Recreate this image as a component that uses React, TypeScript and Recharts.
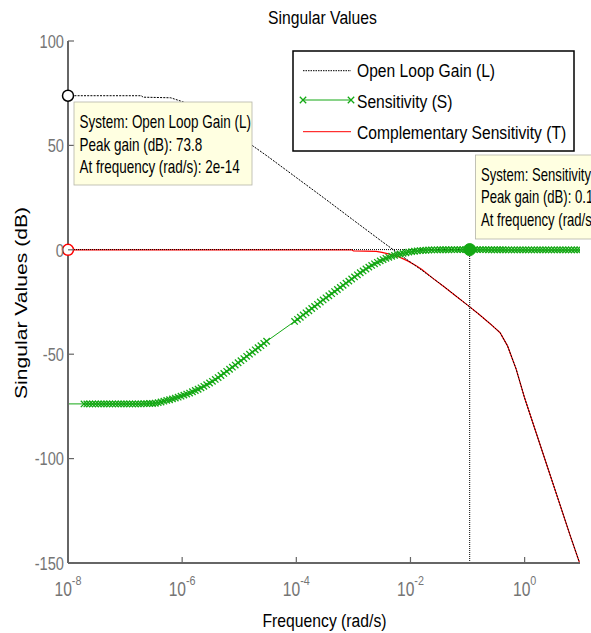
import React from "react";
import {
  ComposedChart,
  Line,
  XAxis,
  YAxis,
  ReferenceLine,
  ReferenceDot,
} from "recharts";

const FONT = "'Liberation Sans', Arial, Helvetica, sans-serif";
const GREEN = "#14a814";
const RED = "#ff0000";
const AXIS = "#666666";
const TICKTXT = "#757575";

// axes
const xMin = 1e-8;
const xMax = 10 ** 0.97;
const xTicks = [1e-8, 1e-6, 1e-4, 1e-2, 1];
const yTicks = [-150, -100, -50, 0, 50, 100];

// [log10(freq), dB]
const openLoop = [
  [-8, 73.8], [-7.5, 73.8], [-7.0, 73.8], [-6.71, 73.8], [-6.69, 73.1], [-6.2, 72.8],
  [-5.99, 70.9], [-5.8, 68.8], [-5.6, 65.9], [-5.4, 62.4], [-5.2, 58.5], [-5.0, 54.5],
  [-4.8, 50.5], [-4.5, 44.7], [-4.0, 34.6], [-3.5, 24.5], [-3.0, 14.2], [-2.5, 4.0],
  [-2.2, -2.0], [-2.0, -5.9], [-1.8, -9.8], [-1.6, -13.8], [-1.4, -17.9], [-1.2, -22.2],
  [-1.0, -26.5], [-0.8, -30.9], [-0.6, -35.5], [-0.43, -39.7], [-0.3, -46], [-0.15, -57],
  [0, -71], [0.2, -87.5], [0.4, -104], [0.6, -120.5], [0.8, -137], [0.97, -150.5],
];

const compSens = [
  [-8, 0], [-3.03, 0], [-3.0, -0.5], [-2.8, -0.6], [-2.6, -0.8], [-2.5, -1.2],
  [-2.35, -2.2], [-2.2, -3.4], [-2.05, -5.3], [-1.9, -7.6], [-1.8, -9.4], [-1.6, -13.8],
  [-1.4, -17.9], [-1.2, -22.2], [-1.0, -26.5], [-0.8, -30.9], [-0.6, -35.5], [-0.43, -39.7],
  [-0.3, -46], [-0.15, -57], [0, -71], [0.2, -87.5], [0.4, -104], [0.6, -120.5],
  [0.8, -137], [0.97, -150.5],
];

const sensLow = [
  [-8.5, -73.8], [-7.72, -73.8], [-7.67, -73.8], [-7.62, -73.8], [-7.57, -73.8], [-7.52, -73.8],
  [-7.47, -73.8], [-7.42, -73.8], [-7.37, -73.8], [-7.32, -73.8], [-7.27, -73.8], [-7.22, -73.8],
  [-7.17, -73.8], [-7.12, -73.8], [-7.07, -73.8], [-7.02, -73.8], [-6.97, -73.8], [-6.92, -73.8],
  [-6.87, -73.8], [-6.82, -73.8], [-6.77, -73.8], [-6.72, -73.8], [-6.67, -73.7], [-6.62, -73.7],
  [-6.57, -73.6], [-6.52, -73.6],
];

const sensRise1 = [
  [-6.47, -73.5], [-6.42, -73.2], [-6.37, -72.9], [-6.32, -72.5], [-6.27, -72.1], [-6.22, -71.8],
  [-6.17, -71.4], [-6.12, -71.0], [-6.07, -70.6], [-6.02, -70.1], [-5.97, -69.6], [-5.92, -69.1],
  [-5.87, -68.6], [-5.82, -68.0], [-5.77, -67.4], [-5.72, -66.8], [-5.67, -66.1], [-5.62, -65.4],
  [-5.57, -64.6], [-5.52, -63.8], [-5.47, -63.0], [-5.42, -62.1], [-5.37, -61.2], [-5.32, -60.2],
  [-5.27, -59.2], [-5.22, -58.2], [-5.17, -57.2], [-5.12, -56.2], [-5.07, -55.2], [-5.02, -54.1],
  [-4.97, -53.1], [-4.92, -52.1], [-4.87, -51.0], [-4.82, -50.0], [-4.77, -49.0], [-4.72, -47.9],
  [-4.67, -46.9], [-4.62, -45.9], [-4.57, -44.8], [-4.52, -43.8],
];

const sensRise2 = [
  [-4.03, -34.3], [-3.98, -33.3], [-3.93, -32.3], [-3.88, -31.2], [-3.83, -30.2], [-3.78, -29.2],
  [-3.73, -28.1], [-3.68, -27.1], [-3.63, -26.1], [-3.58, -25.0], [-3.53, -24.0], [-3.48, -23.0],
  [-3.43, -22.0], [-3.38, -21.0], [-3.33, -20.0], [-3.28, -19.0], [-3.23, -18.0], [-3.18, -17.0],
  [-3.13, -16.0], [-3.08, -15.0], [-3.03, -14.0], [-2.98, -13.0], [-2.93, -12.0], [-2.88, -11.0],
  [-2.83, -10.1], [-2.78, -9.2], [-2.73, -8.3], [-2.68, -7.5], [-2.63, -6.7], [-2.58, -6.0],
  [-2.53, -5.3], [-2.48, -4.7], [-2.43, -4.1], [-2.38, -3.6], [-2.33, -3.1], [-2.28, -2.7],
  [-2.23, -2.3], [-2.18, -2.0], [-2.13, -1.7], [-2.08, -1.4], [-2.03, -1.1], [-1.98, -0.9],
  [-1.93, -0.7], [-1.88, -0.5], [-1.83, -0.4], [-1.78, -0.3], [-1.73, -0.2], [-1.68, -0.1],
  [-1.63, -0.05],
];

const sensHigh = [
  [-1.58, 0], [-1.53, 0], [-1.48, 0.01], [-1.43, 0.02], [-1.38, 0.03], [-1.33, 0.04],
  [-1.28, 0.05], [-1.23, 0.06], [-1.18, 0.07], [-1.13, 0.08], [-1.08, 0.09], [-1.03, 0.1],
  [-0.98, 0.1], [-0.93, 0.1], [-0.88, 0.09], [-0.83, 0.08], [-0.78, 0.07], [-0.73, 0.06],
  [-0.68, 0.05], [-0.63, 0.04], [-0.58, 0.03], [-0.53, 0.02], [-0.48, 0.02], [-0.43, 0.01],
  [-0.38, 0.01], [-0.33, 0], [-0.28, 0], [-0.23, 0], [-0.18, 0], [-0.13, 0],
  [-0.08, 0], [-0.03, 0], [0.02, 0], [0.07, 0], [0.12, 0], [0.17, 0],
  [0.22, 0], [0.27, 0], [0.32, 0], [0.37, 0], [0.42, 0], [0.47, 0],
  [0.52, 0], [0.57, 0], [0.62, 0], [0.67, 0], [0.72, 0], [0.77, 0],
  [0.82, 0], [0.87, 0], [0.92, 0], [0.97, 0],
];

// peak markers
const lPeak = { f: 1e-8, db: 73.8 };
const tPeak = { f: 1e-8, db: 0 };
const sPeak = { f: 0.109, db: 0.1 };

const toPts = (arr: number[][]) => arr.map(([e, db]) => ({ f: 10 ** e, db }));

const dataL = toPts(openLoop);
const dataT = toPts(compSens);
const dataS = toPts([...sensLow, ...sensRise1, ...sensRise2, ...sensHigh]);

function SText({ x, y, k, size, anchor = "start", fill = "#000", children }: any) {
  return (
    <text
      transform={`translate(${x},${y}) scale(${k},1)`}
      fontSize={size}
      textAnchor={anchor}
      fill={fill}
      fontFamily={FONT}
    >
      {children}
    </text>
  );
}

function XMark({ cx, cy, index }: any) {
  if (cx == null || cy == null) return null;
  const h = 3.2;
  return (
    <path
      key={`xm${index}`}
      d={`M${cx - h},${cy - h}L${cx + h},${cy + h}M${cx - h},${cy + h}L${cx + h},${cy - h}`}
      stroke={GREEN}
      strokeWidth={1.3}
      fill="none"
    />
  );
}

function BottomTick({ x, y, payload }: any) {
  const e = Math.round(Math.log10(payload.value));
  return (
    <g>
      <line x1={x} x2={x} y1={y} y2={y - 6} stroke={AXIS} strokeWidth={1.2} />
      <text
        transform={`translate(${x},${y + 33}) scale(0.8,1)`}
        textAnchor="middle"
        fontSize={19.5}
        fill={TICKTXT}
        fontFamily={FONT}
      >
        <tspan>10</tspan>
        <tspan dy={-11} fontSize={13.5}>{e}</tspan>
      </text>
    </g>
  );
}

function LeftTick({ x, y, payload }: any) {
  return (
    <g>
      <line x1={x} x2={x + 6} y1={y} y2={y} stroke={AXIS} strokeWidth={1.2} />
      <SText x={x - 4} y={y + 6.8} k={0.77} size={19} anchor="end" fill={TICKTXT}>
        {payload.value}
      </SText>
    </g>
  );
}

function TopTick({ x, y }: any) {
  return <line x1={x} x2={x} y1={y} y2={y + 6} stroke={AXIS} strokeWidth={1.2} />;
}

function RightTick({ x, y }: any) {
  return <line x1={x} x2={x - 6} y1={y} y2={y} stroke={AXIS} strokeWidth={1.2} />;
}

function Overlay() {
  return (
    <svg
      width={591}
      height={633}
      style={{ position: "absolute", left: 0, top: 0, pointerEvents: "none" }}
    >
      <SText x={322.5} y={24} k={0.85} size={18.5} anchor="middle">Singular Values</SText>
      <SText x={324.5} y={626.5} k={0.85} size={18.5} anchor="middle">Frequency (rad/s)</SText>
      <text
        transform="translate(27,303) rotate(-90) scale(1,0.85)"
        fontSize={19.5}
        textAnchor="middle"
        fontFamily={FONT}
        textLength={192}
        lengthAdjust="spacingAndGlyphs"
      >
        Singular Values (dB)
      </text>

      {/* legend */}
      <rect x={293} y={51} width={281} height={100} fill="#fff" stroke="#000" strokeWidth={1.5} />
      <line x1={303} x2={351} y1={70.7} y2={70.7} stroke="#000" strokeWidth={1} strokeDasharray="1.5 1" />
      <line x1={303} x2={351} y1={100} y2={100} stroke={GREEN} strokeWidth={1} />
      <XMark cx={303} cy={100} index="l1" />
      <XMark cx={351} cy={100} index="l2" />
      <line x1={303} x2={351} y1={131.7} y2={131.7} stroke={RED} strokeWidth={1} />
      <SText x={357} y={77} k={0.845} size={18.5}>Open Loop Gain (L)</SText>
      <SText x={357} y={108.3} k={0.845} size={18.5}>Sensitivity (S)</SText>
      <SText x={357} y={139} k={0.845} size={18.5}>Complementary Sensitivity (T)</SText>

      {/* data tips */}
      <rect x={74} y={102} width={178} height={83} fill="#ffffe1" stroke="#b4b4a8" strokeWidth={0.8} />
      <SText x={79.5} y={128} k={0.77} size={17.5}>System: Open Loop Gain (L)</SText>
      <SText x={79.5} y={150.5} k={0.77} size={17.5}>Peak gain (dB): 73.8</SText>
      <SText x={79.5} y={173} k={0.77} size={17.5}>At frequency (rad/s): 2e-14</SText>

      <rect x={475.5} y={155} width={140} height={84} fill="#ffffe1" stroke="#b4b4a8" strokeWidth={0.8} />
      <SText x={481} y={180.5} k={0.75} size={17.5}>System: Sensitivity</SText>
      <SText x={481} y={203} k={0.75} size={17.5}>Peak gain (dB): 0.1</SText>
      <SText x={481} y={225.5} k={0.75} size={17.5}>At frequency (rad/s): 0.109</SText>
    </svg>
  );
}

export default function App() {
  return (
    <div style={{ position: "absolute", left: 0, top: 0, width: 591, height: 633, background: "#fff" }}>
      <ComposedChart width={591} height={633} margin={{ top: 41, right: 11, bottom: 40, left: 18 }}>
        <XAxis
          dataKey="f"
          type="number"
          scale="log"
          domain={[xMin, xMax]}
          allowDataOverflow
          ticks={xTicks}
          interval={0}
          height={30}
          tickSize={0}
          tickMargin={0}
          tickLine={false}
          tick={(p: any) => <BottomTick {...p} />}
          axisLine={{ stroke: AXIS, strokeWidth: 2 }}
        />
        <XAxis
          xAxisId="top"
          orientation="top"
          dataKey="f"
          type="number"
          scale="log"
          domain={[xMin, xMax]}
          allowDataOverflow
          ticks={xTicks}
          interval={0}
          height={0}
          tickSize={0}
          tickMargin={0}
          tickLine={false}
          tick={(p: any) => <TopTick {...p} />}
          axisLine={{ stroke: "#8a8a8a", strokeWidth: 1.2 }}
        />
        <YAxis
          type="number"
          domain={[-150, 100]}
          allowDataOverflow
          ticks={yTicks}
          interval={0}
          width={50}
          tickSize={0}
          tickMargin={0}
          tickLine={false}
          tick={(p: any) => <LeftTick {...p} />}
          axisLine={{ stroke: AXIS, strokeWidth: 2 }}
        />
        <YAxis
          yAxisId="right"
          orientation="right"
          type="number"
          domain={[-150, 100]}
          allowDataOverflow
          ticks={yTicks}
          interval={0}
          width={0}
          tickSize={0}
          tickMargin={0}
          tickLine={false}
          tick={(p: any) => <RightTick {...p} />}
          axisLine={{ stroke: AXIS, strokeWidth: 1.5 }}
        />
        <Line
          data={dataT}
          dataKey="db"
          type="linear"
          stroke={RED}
          strokeWidth={1.2}
          dot={false}
          activeDot={false}
          isAnimationActive={false}
        />
        <Line
          data={dataL}
          dataKey="db"
          type="linear"
          stroke="#000"
          strokeWidth={1}
          strokeDasharray="2 1.2"
          dot={false}
          activeDot={false}
          isAnimationActive={false}
        />
        <Line
          data={dataS}
          dataKey="db"
          type="linear"
          stroke={GREEN}
          strokeWidth={1}
          dot={(p: any) => <XMark key={`s${p.index}`} {...p} />}
          activeDot={false}
          isAnimationActive={false}
        />
        <ReferenceLine
          segment={[{ x: xMin, y: sPeak.db }, { x: sPeak.f, y: sPeak.db }]}
          stroke="#000"
          strokeWidth={1}
          strokeDasharray="1 1"
          ifOverflow="visible"
        />
        <ReferenceLine
          segment={[{ x: sPeak.f, y: -150 }, { x: sPeak.f, y: sPeak.db }]}
          stroke="#000"
          strokeWidth={1}
          strokeDasharray="1 1"
          ifOverflow="visible"
        />
        <ReferenceDot x={lPeak.f} y={lPeak.db} r={5.5} fill="#fff" stroke="#000" strokeWidth={1.5} ifOverflow="visible" />
        <ReferenceDot x={tPeak.f} y={tPeak.db} r={5.5} fill="#fff" stroke={RED} strokeWidth={1.5} ifOverflow="visible" />
        <ReferenceDot x={sPeak.f} y={sPeak.db} r={6} fill={GREEN} stroke={GREEN} strokeWidth={1} ifOverflow="visible" />
      </ComposedChart>
      <Overlay />
    </div>
  );
}
